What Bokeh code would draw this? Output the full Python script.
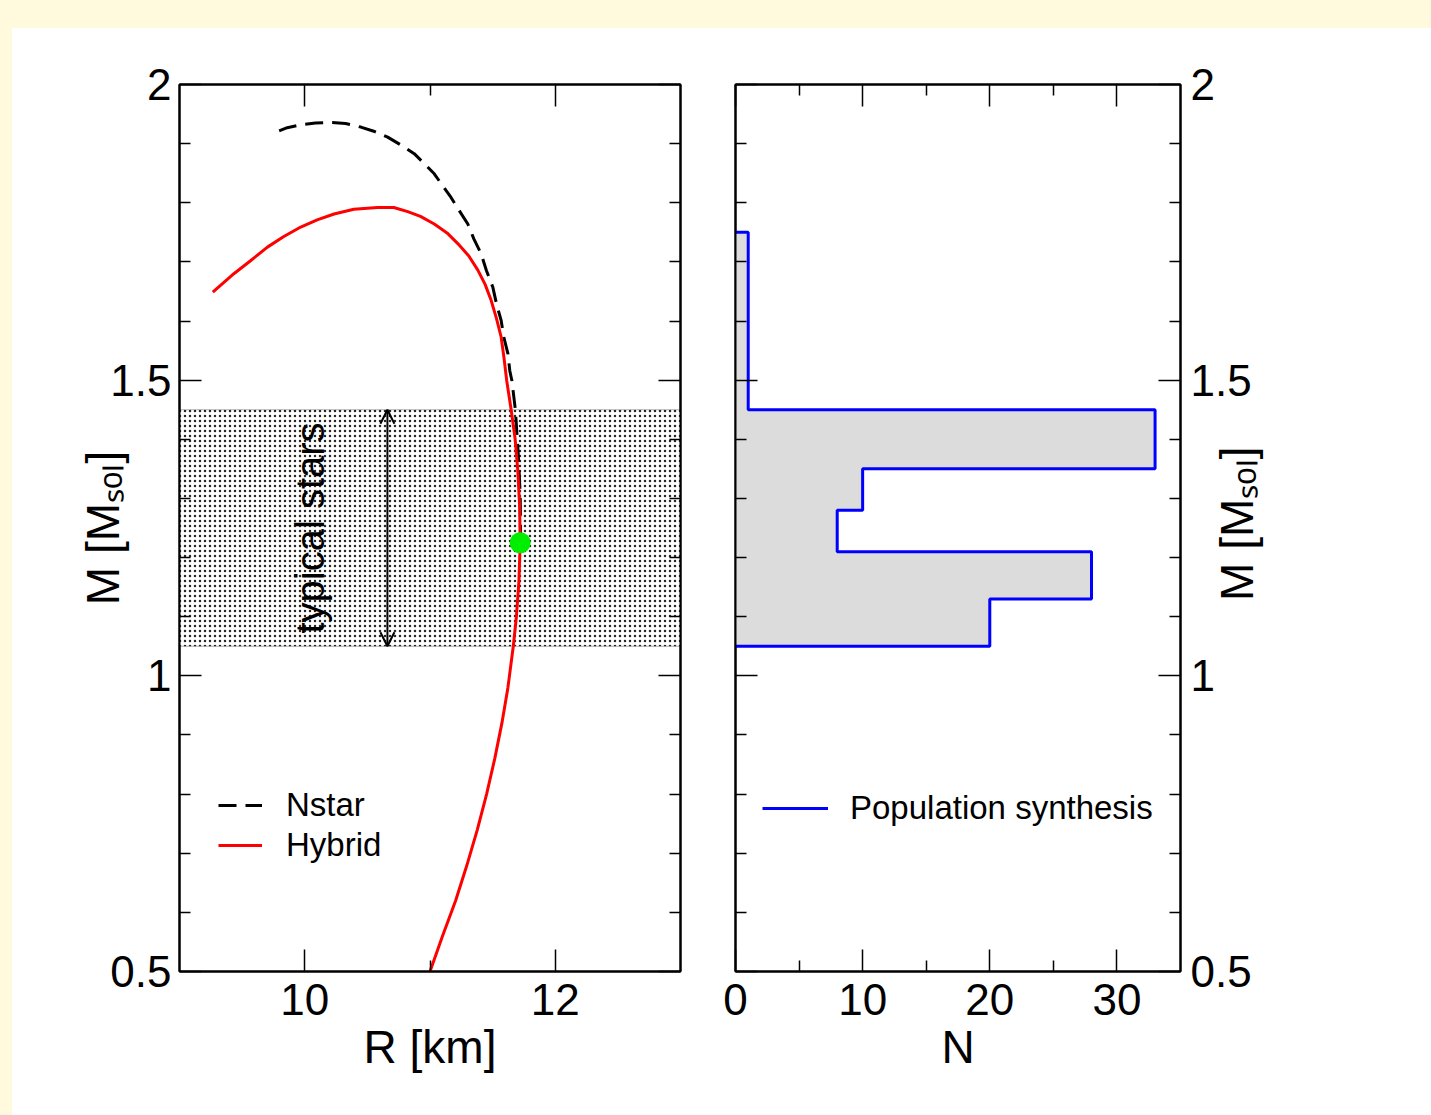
import math

from bokeh.embed import file_html
from bokeh.layouts import column, row
from bokeh.models import (Arrow, BoxAnnotation, FixedTicker, Label, Legend,
                          LinearAxis, OpenHead, Range1d, Spacer)
from bokeh.plotting import figure
from bokeh.resources import INLINE

FONT = "Liberation Sans"
PAGE_BG = "#FFF9DD"

# ---------------------------------------------------------------- data
# Mass-radius relation, hybrid star EoS (R in km, M in solar masses)
hybrid_r = [11.00, 11.10, 11.205, 11.295, 11.378, 11.452, 11.517, 11.574, 11.622,
            11.665, 11.69, 11.71, 11.72, 11.715, 11.70, 11.68, 11.648, 11.612,
            11.59, 11.568, 11.53, 11.488, 11.44, 11.382, 11.31, 11.222,
            11.136, 11.034, 10.924, 10.822, 10.711, 10.582, 10.392, 10.234,
            10.099, 9.968, 9.833, 9.702, 9.567, 9.434, 9.266]
hybrid_m = [0.50, 0.56, 0.62, 0.68, 0.74, 0.80, 0.86, 0.92, 0.98,
            1.05, 1.10, 1.16, 1.225, 1.29, 1.35, 1.40, 1.45, 1.50,
            1.539, 1.573, 1.605, 1.635, 1.662, 1.686, 1.710, 1.731,
            1.749, 1.764, 1.777, 1.785, 1.792, 1.792, 1.789, 1.781,
            1.771, 1.759, 1.743, 1.725, 1.702, 1.680, 1.649]

# Mass-radius relation, pure nucleonic star EoS
nstar_r = [11.724, 11.720, 11.706, 11.682, 11.654, 11.637, 11.622, 11.589,
           11.568, 11.531, 11.502, 11.451, 11.408, 11.350, 11.302, 11.230,
           11.168, 11.097, 11.034, 10.950, 10.874, 10.765, 10.662, 10.551,
           10.448, 10.325, 10.208, 10.086, 9.968, 9.860, 9.750]
nstar_m = [1.225, 1.306, 1.370, 1.449, 1.499, 1.516, 1.545, 1.573,
           1.601, 1.629, 1.657, 1.685, 1.714, 1.739, 1.764, 1.788,
           1.809, 1.830, 1.849, 1.867, 1.883, 1.898, 1.911, 1.921,
           1.928, 1.934, 1.936, 1.935, 1.932, 1.927, 1.918]

# onset of the quark phase on the hybrid branch
onset_r = [11.72]
onset_m = [1.225]

# mass window of typical neutron stars
band_lo = 1.05
band_hi = 1.45
arrow_r = 10.66

# population synthesis histogram (mass bin edges and counts)
bin_edges = [1.05, 1.13, 1.21, 1.28, 1.35, 1.45, 1.75]
counts = [20, 28, 8, 10, 33, 1]

# axes
r_range = (9, 13)
n_range = (0, 35)
m_range = (0.5, 2.0)
m_ticks = [0.5, 1.0, 1.5, 2.0]
m_tick_labels = ["0.5", "1", "1.5", "2"]
m_minor = [0.6, 0.7, 0.8, 0.9, 1.1, 1.2, 1.3, 1.4, 1.6, 1.7, 1.8, 1.9]
r_ticks = [10, 12]
r_tick_labels = ["10", "12"]
r_minor = [11]
n_ticks = [0, 10, 20, 30]
n_tick_labels = ["0", "10", "20", "30"]
n_minor = [5, 15, 25]

MASS_TITLE = "M [M\u209B\u2092\u2097]"

# ---------------------------------------------------------------- geometry
TOP_PAD, LEFT_PAD = 28, 12
FIG_H = 1115 - TOP_PAD
FRAME_TOP, FRAME_BOTTOM = 84, 971            # page pixels
L_FRAME_LEFT, L_FRAME_RIGHT = 179, 680
R_FRAME_LEFT, R_FRAME_RIGHT = 735, 1180
L_FIG_W = 707 - LEFT_PAD
R_FIG_W = 1431 - 707


def style_axis(ax, ticks, minor, labels=None, standoff=8):
    ax.ticker = FixedTicker(ticks=ticks, minor_ticks=minor)
    ax.axis_line_color = "black"
    ax.axis_line_width = 2
    ax.major_tick_in = 22
    ax.major_tick_out = 0
    ax.minor_tick_in = 11
    ax.minor_tick_out = 0
    ax.major_tick_line_color = "black"
    ax.minor_tick_line_color = "black"
    ax.major_tick_line_width = 1.5
    ax.minor_tick_line_width = 1.5
    if labels is None:
        # mirrored axis: ticks only
        ax.major_label_text_color = None
        ax.major_label_text_font_size = "10px"
        ax.major_label_standoff = 0
    else:
        ax.major_label_overrides = dict(zip(ticks, labels))
        ax.major_label_text_font = FONT
        ax.major_label_text_font_size = "44px"
        ax.major_label_text_color = "black"
        ax.major_label_standoff = standoff


def style_title(ax, text, standoff):
    ax.axis_label = text
    ax.axis_label_text_font = FONT
    ax.axis_label_text_font_size = "46px"
    ax.axis_label_text_font_style = "normal"
    ax.axis_label_text_color = "black"
    ax.axis_label_standoff = standoff


def new_figure(width, frame_left_px, frame_right_px, fig_left_px, x_rng, y_axis_loc):
    p = figure(width=width, height=FIG_H,
               x_range=Range1d(*x_rng), y_range=Range1d(*m_range),
               output_backend="svg", toolbar_location=None,
               y_axis_location=y_axis_loc,
               min_border_left=frame_left_px - fig_left_px,
               min_border_right=fig_left_px + width - frame_right_px,
               min_border_top=FRAME_TOP - TOP_PAD,
               min_border_bottom=1115 - FRAME_BOTTOM)
    p.background_fill_color = "white"
    p.border_fill_color = "white"
    p.outline_line_color = "black"
    p.outline_line_width = 2
    p.xgrid.visible = False
    p.ygrid.visible = False
    return p


def legend(items, x, y, glyph_w, standoff):
    return Legend(items=items, location=(x, y), glyph_width=glyph_w, glyph_height=40,
                  label_height=40, label_standoff=standoff, spacing=0, padding=0,
                  margin=0, label_text_font=FONT, label_text_font_size="33px",
                  label_text_color="black", border_line_color=None,
                  background_fill_alpha=0)


# ---------------------------------------------------------------- left: M(R)
p1 = new_figure(L_FIG_W, L_FRAME_LEFT, L_FRAME_RIGHT, LEFT_PAD, r_range, "left")
style_axis(p1.xaxis[0], r_ticks, r_minor, r_tick_labels, standoff=12)
style_axis(p1.yaxis[0], m_ticks, m_minor, m_tick_labels, standoff=8)
style_title(p1.xaxis[0], "R [km]", 3)
style_title(p1.yaxis[0], MASS_TITLE, -22)
top1 = LinearAxis()
style_axis(top1, r_ticks, r_minor)
p1.add_layout(top1, "above")
right1 = LinearAxis()
style_axis(right1, m_ticks, m_minor)
p1.add_layout(right1, "right")

band = BoxAnnotation(bottom=band_lo, top=band_hi, level="underlay",
                     fill_color="white", fill_alpha=1.0,
                     hatch_pattern="dot", hatch_scale=5, hatch_weight=0.1,
                     hatch_color="black", hatch_alpha=0.85,
                     line_color="black", line_width=1)
p1.add_layout(band)

p1.add_layout(Arrow(start=OpenHead(size=14, line_width=2), end=OpenHead(size=14, line_width=2),
                    x_start=arrow_r, y_start=band_lo, x_end=arrow_r, y_end=band_hi,
                    line_width=2, line_color="black"))
p1.add_layout(Label(x=r_range[0] + (309 - L_FRAME_LEFT) * (r_range[1] - r_range[0]) / (L_FRAME_RIGHT - L_FRAME_LEFT),
                    y=(band_lo + band_hi) / 2, text="typical stars",
                    angle=math.pi / 2, text_font=FONT, text_font_size="40px",
                    text_align="center", text_baseline="middle", text_color="black"))

nstar = p1.line(nstar_r, nstar_m, line_color="black", line_width=3, line_dash="18 9")
hybrid = p1.line(hybrid_r, hybrid_m, line_color="#FF0000", line_width=3)
p1.scatter(onset_r, onset_m, size=21, fill_color="#00EE00", line_color=None)

p1.add_layout(legend([("Nstar", [nstar]), ("Hybrid", [hybrid])], 39, 106, 44, 24))

# ---------------------------------------------------------------- right: N(M)
p2 = new_figure(R_FIG_W, R_FRAME_LEFT, R_FRAME_RIGHT, 707, n_range, "right")
style_axis(p2.xaxis[0], n_ticks, n_minor, n_tick_labels, standoff=12)
style_axis(p2.yaxis[0], m_ticks, m_minor, m_tick_labels, standoff=10)
style_title(p2.xaxis[0], "N", 3)

# right-hand title reads bottom-to-top like the left one; a numeric orientation
# starts the text at the anchor, so anchor it at the bottom of the axis and lead
# in with non-breaking spaces to bring it to mid-height
yax2 = p2.yaxis[0]
if "axis_label_align" in yax2.properties():
    style_title(yax2, "\u00A0" * 29 + MASS_TITLE, -18)
    yax2.axis_label_orientation = math.pi / 2
    yax2.axis_label_align = "start"
else:
    style_title(yax2, MASS_TITLE, -18)

top2 = LinearAxis()
style_axis(top2, n_ticks, n_minor)
p2.add_layout(top2, "above")
left2 = LinearAxis()
style_axis(left2, m_ticks, m_minor)
p2.add_layout(left2, "left")

# step outline of the histogram, traced from the heaviest bin downwards
step_x, step_y = [0], [bin_edges[-1]]
for i in range(len(counts) - 1, -1, -1):
    step_x += [counts[i], counts[i]]
    step_y += [bin_edges[i + 1], bin_edges[i]]
step_x.append(0)
step_y.append(bin_edges[0])
p2.patch(step_x, step_y, fill_color="#DCDCDC", line_color=None)
pop = p2.line(step_x, step_y, line_color="#0000FF", line_width=3)

p2.add_layout(legend([("Population synthesis", [pop])], 27, 143, 66, 22))

# ---------------------------------------------------------------- page
layout = column(
    Spacer(width=1431, height=TOP_PAD, styles={"background-color": PAGE_BG}),
    row(Spacer(width=LEFT_PAD, height=FIG_H, styles={"background-color": PAGE_BG}), p1, p2,
        styles={"background-color": "white"}),
)

with open("out.html", "w") as f:
    f.write(file_html(layout, INLINE))
